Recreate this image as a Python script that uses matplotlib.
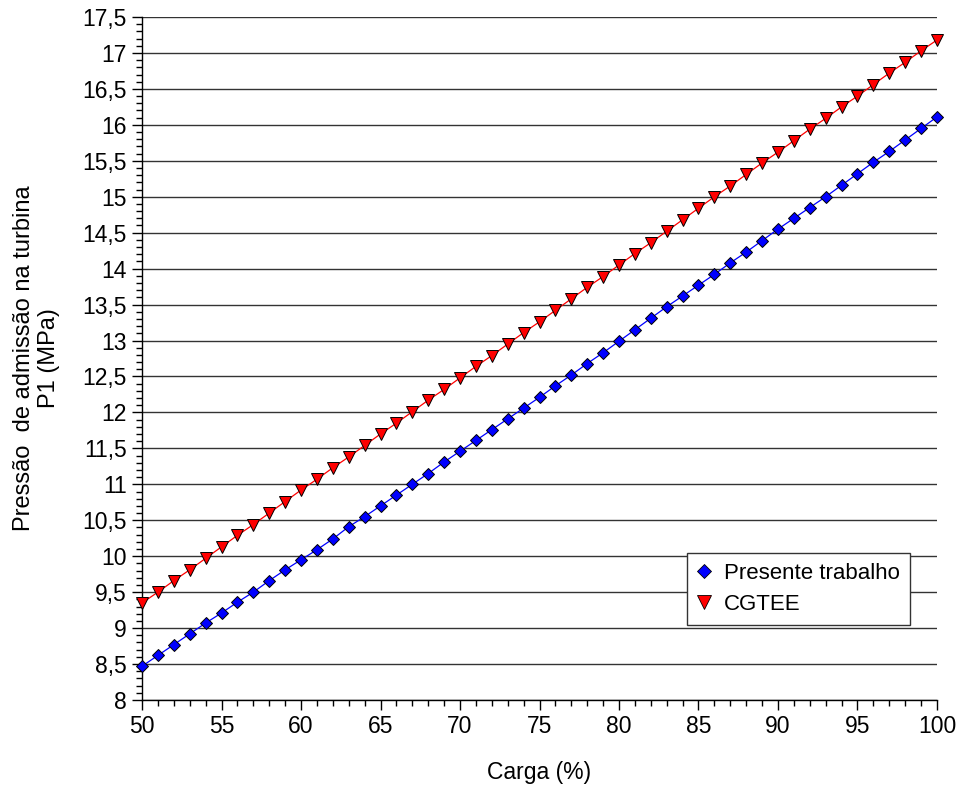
import matplotlib
matplotlib.use("Agg")
import matplotlib.pyplot as plt
from matplotlib.ticker import MultipleLocator, FuncFormatter
from matplotlib.lines import Line2D

plt.rcParams['font.family'] = ['Liberation Sans', 'DejaVu Sans']

carga = list(range(50, 101))

presente = [8.47, 8.62, 8.77, 8.92, 9.07, 9.21, 9.36, 9.50, 9.66, 9.81,
            9.95, 10.09, 10.24, 10.41, 10.55, 10.70, 10.85, 11.00, 11.15, 11.31,
            11.46, 11.61, 11.76, 11.91, 12.06, 12.21, 12.37, 12.52, 12.68, 12.83,
            12.99, 13.15, 13.31, 13.47, 13.62, 13.77, 13.92, 14.08, 14.23, 14.39,
            14.55, 14.70, 14.85, 15.00, 15.16, 15.32, 15.48, 15.63, 15.79, 15.95,
            16.11]

cgtee = [9.35, 9.50, 9.66, 9.81, 9.97, 10.13, 10.29, 10.44, 10.60, 10.76,
         10.92, 11.07, 11.23, 11.38, 11.54, 11.70, 11.85, 12.01, 12.17, 12.32,
         12.48, 12.64, 12.79, 12.95, 13.11, 13.26, 13.42, 13.58, 13.74, 13.89,
         14.05, 14.21, 14.36, 14.52, 14.68, 14.84, 15.00, 15.15, 15.31, 15.47,
         15.62, 15.78, 15.94, 16.09, 16.25, 16.40, 16.56, 16.72, 16.87, 17.03,
         17.18]

labels = ["Presente trabalho", "CGTEE"]

fig = plt.figure(figsize=(9.62, 7.85), dpi=100)
ax = fig.add_axes([142/962, 85/785, 795/962, 683/785])

ax.set_xlim(50, 100)
ax.set_ylim(8, 17.5)

ax.yaxis.set_major_locator(MultipleLocator(0.5))
ax.yaxis.set_minor_locator(MultipleLocator(0.1))
ax.xaxis.set_major_locator(MultipleLocator(5))
ax.xaxis.set_minor_locator(MultipleLocator(1))

def comma(v, pos):
    s = ('%g' % round(v, 2))
    return s.replace('.', ',')
ax.yaxis.set_major_formatter(FuncFormatter(comma))

ax.grid(True, axis='y', which='major', color='#333333', linewidth=1.0)
ax.set_axisbelow(True)
for s in ['top', 'right']:
    ax.spines[s].set_visible(False)
for s in ['left', 'bottom']:
    ax.spines[s].set_color('black')
    ax.spines[s].set_linewidth(1.0)

ax.tick_params(axis='both', which='major', direction='out', length=7, width=1,
               labelsize=16.5, colors='black', pad=4)
ax.tick_params(axis='both', which='minor', direction='out', length=4, width=1,
               colors='black')

ax.plot(carga, presente, color='#0000FF', linewidth=0.9, marker='D',
        markersize=6.4, markerfacecolor='#0000FF', markeredgecolor='black',
        markeredgewidth=0.7, clip_on=False, zorder=3)
ax.plot(carga, cgtee, color='#FF0000', linewidth=0.9, marker='v',
        markersize=8.3, markerfacecolor='#FF0000', markeredgecolor='black',
        markeredgewidth=0.7, clip_on=False, zorder=3)

ax.set_xlabel("Carga (%)", fontsize=16.5, labelpad=16)
ax.set_ylabel("Pressão  de admissão na turbina\nP1 (MPa)", fontsize=17,
              labelpad=16, multialignment='center')

handles = [Line2D([], [], linestyle='none', marker='D', markersize=7.5,
                  markerfacecolor='#0000FF', markeredgecolor='black', markeredgewidth=0.6),
           Line2D([], [], linestyle='none', marker='v', markersize=9.5,
                  markerfacecolor='#FF0000', markeredgecolor='black', markeredgewidth=0.6)]
leg = fig.legend(handles, labels, loc='upper left',
                 bbox_to_anchor=(687/962, 1 - 553/785), fontsize=16,
                 frameon=True, fancybox=False, shadow=False, framealpha=1,
                 edgecolor='#333333', handlelength=0.6, handletextpad=0.6,
                 borderpad=0.45, labelspacing=0.45, borderaxespad=0)
leg.get_frame().set_linewidth(1.0)

fig.savefig("out.png", dpi=100, facecolor='white')
